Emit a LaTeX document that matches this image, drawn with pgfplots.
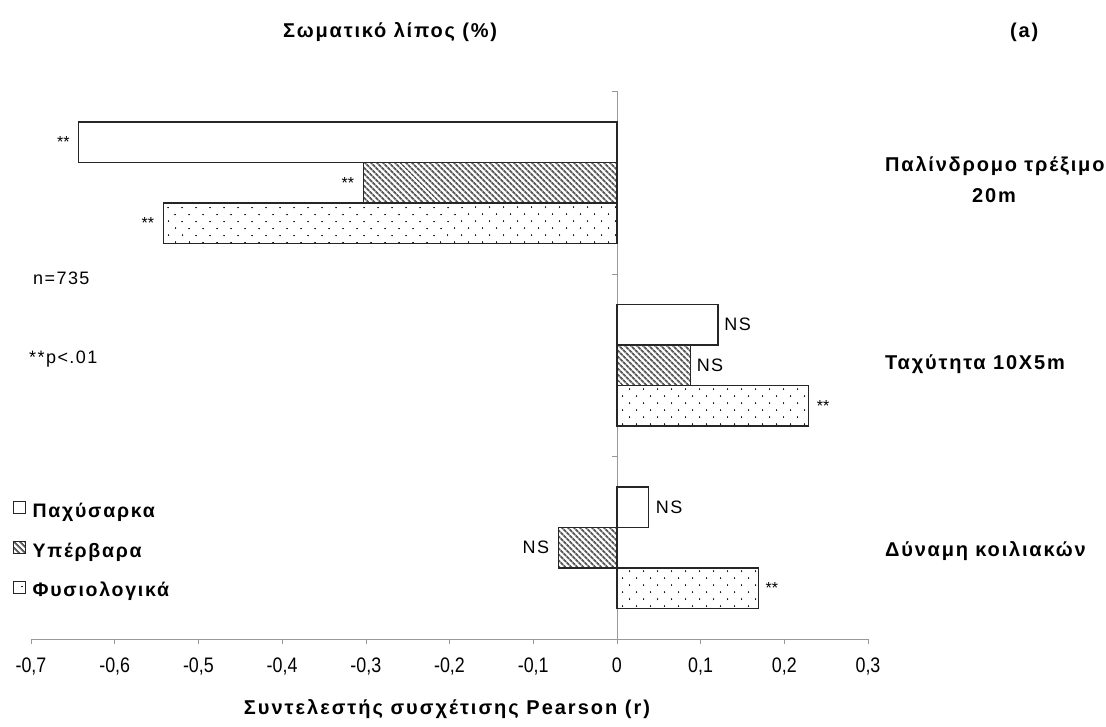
\documentclass[border=0pt]{standalone}
\usepackage{fontspec}
\setmainfont{Liberation Sans}
\newfontfamily\spfont[LetterSpace=8]{Liberation Sans}
\newfontfamily\splab[LetterSpace=9]{Liberation Sans}
\newfontfamily\spx[LetterSpace=10]{Liberation Sans}
\usepackage{graphicx}
\usepackage{pgfplots}
\pgfplotsset{compat=1.18}
\usetikzlibrary{patterns,patterns.meta}

\pgfplotstableread{
pos r
3 -0.643
2 0.121
1 0.038
}\tabObese
\pgfplotstableread{
pos r
3 -0.303
2 0.088
1 -0.070
}\tabUnder
\pgfplotstableread{
pos r
3 -0.542
2 0.229
1 0.169
}\tabNormal

\tikzset{
  obesest/.style={fill=white, draw=black!85, line width=1.4pt},
  underst/.style={pattern={Lines[angle=-45,distance=4pt,line width=2pt]}, pattern color=black!65, draw=black!85, line width=1.4pt},
  normalst/.style={pattern={Dots[angle=45,distance=10.5pt,radius=0.9pt]}, pattern color=black, draw=black!85, line width=1.4pt},
  ann/.style={inner sep=0pt, font=\spfont\fontsize{18}{18}\selectfont},
  star/.style={inner sep=0pt, font=\fontsize{16}{16}\selectfont},
  lab/.style={inner sep=0pt, font=\splab\bfseries\fontsize{20}{20}\selectfont},
}
\pgfplotsset{sqlegend/.style={legend image code/.code={\draw[##1, line width=0.8pt] (0pt,-1pt) rectangle (12pt,11pt);}}}

\begin{document}
\begin{tikzpicture}
\path[use as bounding box] (0,0) rectangle (1106pt,726pt);
\begin{axis}[
  at={(31pt,87pt)}, anchor=south west,
  width=837pt, height=547.5pt, scale only axis,
  xmin=-0.7, xmax=0.3, ymin=0.5, ymax=3.5,
  axis x line=bottom, axis y line=middle,
  axis line style={-, gray!80, line width=0.8pt},
  hide obscured x ticks=false,
  xtick={-0.7,-0.6,-0.5,-0.4,-0.3,-0.2,-0.1,0,0.1,0.2,0.3},
  ytick={0.5,1.5,2.5,3.5}, yticklabels={},
  tick style={gray!80, line width=0.6pt},
  major tick length=5pt,
  xtick align=outside,
  ytick align=outside,
  xticklabel={\scalebox{0.85}[1]{\pgfmathprintnumber{\tick}}},
  x tick label style={font=\fontsize{21}{21}\selectfont, yshift=-10pt},
  /pgf/number format/.cd, use comma, fixed, precision=1, assume math mode=true, /pgfplots/.cd,
  xbar, bar width=40.5pt,
  legend style={draw=none, fill=none, at={(rel axis cs:-0.022,0.252)}, anchor=north west,
    inner sep=0pt, row sep=19pt, column sep=7pt,
    nodes={inner sep=0pt, text height=14pt, text depth=5pt},
    font=\splab\bfseries\fontsize{19.5}{19.5}\selectfont},
  legend cell align=left,
  clip=false,
]
\addplot[obesest, bar shift=40.5pt, sqlegend] table[x=r,y=pos]{\tabObese};
\addlegendentry{Παχύσαρκα}
\addplot[underst, bar shift=0pt, sqlegend] table[x=r,y=pos]{\tabUnder};
\addlegendentry{Υπέρβαρα}
\addplot[normalst, bar shift=-40.5pt, sqlegend] table[x=r,y=pos]{\tabNormal};
\addlegendentry{Φυσιολογικά}

% significance annotations
\node[star, anchor=east, xshift=-9pt, yshift=40.5pt] at (axis cs:-0.643,3) {**};
\node[star, anchor=east, xshift=-9pt] at (axis cs:-0.303,3) {**};
\node[star, anchor=east, xshift=-9pt, yshift=-40.5pt] at (axis cs:-0.542,3) {**};
\node[ann, anchor=west, xshift=6pt, yshift=40.5pt] at (axis cs:0.121,2) {NS};
\node[ann, anchor=west, xshift=6pt] at (axis cs:0.088,2) {NS};
\node[star, anchor=west, xshift=8pt, yshift=-40.5pt] at (axis cs:0.229,2) {**};
\node[ann, anchor=west, xshift=7pt, yshift=40.5pt] at (axis cs:0.038,1) {NS};
\node[ann, anchor=east, xshift=-9pt] at (axis cs:-0.070,1) {NS};
\node[star, anchor=west, xshift=7pt, yshift=-40.5pt] at (axis cs:0.169,1) {**};
\end{axis}

% titles and labels
\node[lab, anchor=base west] at (283pt,688pt) {Σωματικό λίπος (\%)};
\node[lab, anchor=base west] at (1010pt,688pt) {(a)};
\node[inner sep=0pt, font=\spx\bfseries\fontsize{20}{20}\selectfont, anchor=base] at (447pt,12pt) {Συντελεστής συσχέτισης Pearson (r)};
\node[lab, anchor=base west] at (885pt,554pt) {Παλίνδρομο τρέξιμο};
\node[lab, anchor=base] at (994pt,523pt) {20m};
\node[lab, anchor=base west] at (885pt,356pt) {Ταχύτητα 10X5m};
\node[lab, anchor=base west] at (885pt,169pt) {Δύναμη κοιλιακών};
\node[ann, anchor=base west] at (33pt,441pt) {n=735};
\node[ann, anchor=base west] at (29pt,362pt) {**p<.01};
\end{tikzpicture}
\end{document}
